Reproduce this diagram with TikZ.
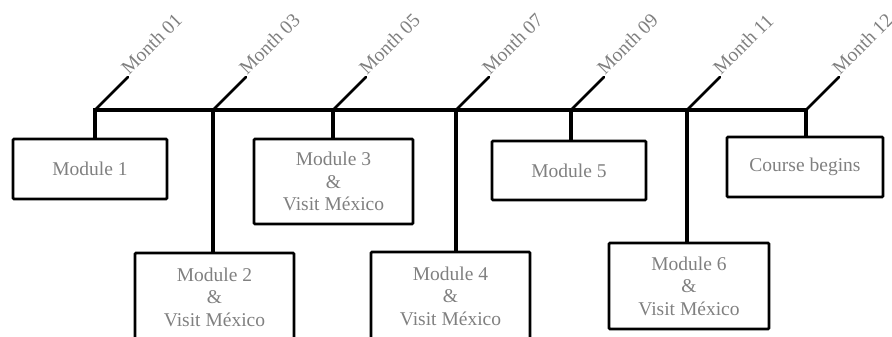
\documentclass[tikz,border=0pt]{standalone}
\usepackage{fontspec}
\setmainfont{Liberation Serif}
\begin{document}
\begin{tikzpicture}[x=1pt,y=-1pt,
  modbox/.style={draw=black,line width=2.6pt,rounded corners=1pt,align=center,
    text=black!50,font=\fontsize{19.5}{22.5}\selectfont,inner sep=0pt,anchor=center},
  mainline/.style={line width=3.6pt},
  stemline/.style={line width=3.4pt},
  diag/.style={line width=2.6pt},
  monthlbl/.style={rotate=45,anchor=base west,inner sep=1.5pt,text=black!50,
    font=\fontsize{19.5}{21}\selectfont}]
\useasboundingbox (0,0) rectangle (892,337);
\clip (0,0) rectangle (892,337);
% ticks on main line
\coordinate (t1) at (95,110);
\coordinate (t2) at (213,110);
\coordinate (t3) at (333,110);
\coordinate (t4) at (456,110);
\coordinate (t5) at (571,110);
\coordinate (t6) at (687,110);
\coordinate (t7) at (806,110);
\coordinate (mstart) at (93.2,110);
\coordinate (mend) at (807.8,110);
% boxes
\node[modbox,minimum width=154,minimum height=60] (b1) at (90,169) {Module 1};
\node[modbox,minimum width=159,minimum height=88] (b2) at (214.5,297) {Module 2\\\&\\Visit México};
\node[modbox,minimum width=159,minimum height=85] (b3) at (333.5,181.5) {Module 3\\\&\\Visit México};
\node[modbox,minimum width=159,minimum height=88] (b4) at (450.5,296) {Module 4\\\&\\Visit México};
\node[modbox,minimum width=154,minimum height=59] (b5) at (569,170.5) {Module 5};
\node[modbox,minimum width=160,minimum height=86] (b6) at (689,286) {Module 6\\\&\\Visit México};
\node[modbox,minimum width=156,minimum height=60] (b7) at (805,167) {Course begins};
% stems
\draw[stemline] (t1) -- (t1 |- b1.north);
\draw[stemline] (t2) -- (t2 |- b2.north);
\draw[stemline] (t3) -- (t3 |- b3.north);
\draw[stemline] (t4) -- (t4 |- b4.north);
\draw[stemline] (t5) -- (t5 |- b5.north);
\draw[stemline] (t6) -- (t6 |- b6.north);
\draw[stemline] (t7) -- (t7 |- b7.north);
% main line
\draw[mainline] (mstart) -- (mend);
% diagonals and labels
\foreach \t/\m in {t1/01,t2/03,t3/05,t4/07,t5/09,t6/11,t7/12}{
  \coordinate (\t e) at ([shift={(33,-33)}]\t);
  \draw[diag,line cap=round] (\t) -- (\t e);
  \node[monthlbl] (\t lbl) at (\t e) {Month \m};
}
\end{tikzpicture}
\end{document}
